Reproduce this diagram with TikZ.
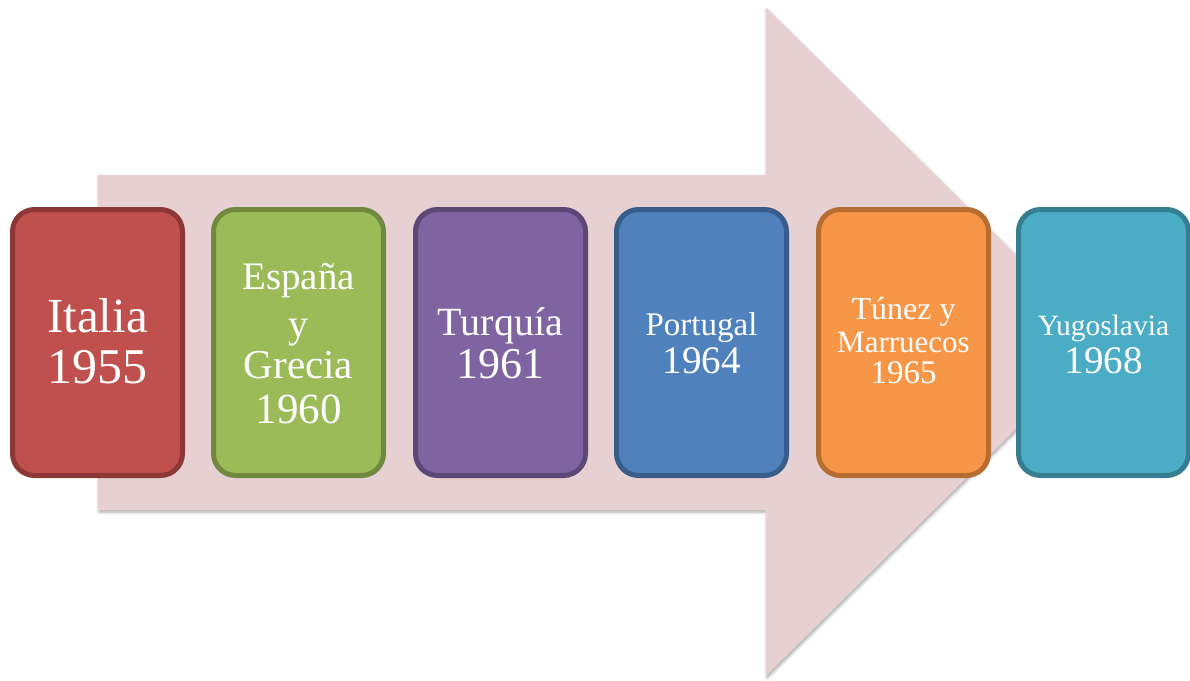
\documentclass[tikz,border=0pt]{standalone}
\usepackage{fontspec}
\setmainfont{Liberation Serif}
\usetikzlibrary{shadows.blur}
\definecolor{arrowpink}{HTML}{E7D0D1}
\definecolor{redF}{HTML}{C0504D}\definecolor{redB}{HTML}{8C3836}
\definecolor{greenF}{HTML}{9BBB59}\definecolor{greenB}{HTML}{71893F}
\definecolor{purpleF}{HTML}{8064A2}\definecolor{purpleB}{HTML}{5C4776}
\definecolor{blueF}{HTML}{4F81BD}\definecolor{blueB}{HTML}{385D8A}
\definecolor{orangeF}{HTML}{F79646}\definecolor{orangeB}{HTML}{B66D31}
\definecolor{aquaF}{HTML}{4BACC6}\definecolor{aquaB}{HTML}{357D91}
\newcommand\fsz[1]{\fontsize{#1}{#1}\selectfont}
\begin{document}
\begin{tikzpicture}[x=1pt,y=-1pt,
  stage/.style={draw, line width=5pt, rounded corners=22pt, minimum width=170pt, minimum height=266pt, inner sep=0pt},
  lbl/.style={text=white, anchor=base, inner sep=0pt}]
\useasboundingbox (0,0) rectangle (1190,680);
% big arrow
\fill[arrowpink, blur shadow={shadow xshift=1pt, shadow yshift=-2pt, shadow blur radius=3pt, shadow opacity=35}]
  (98,175) -- (766,175) -- (766,8) -- (1104,342) -- (766,676) -- (766,510) -- (98,510) -- cycle;
% boxes
\node[stage, fill=redF, draw=redB] (b1) at (97.5,342.5) {};
\node[stage, fill=greenF, draw=greenB] (b2) at (298.5,342.5) {};
\node[stage, fill=purpleF, draw=purpleB] (b3) at (500.5,342.5) {};
\node[stage, fill=blueF, draw=blueB] (b4) at (701.5,342.5) {};
\node[stage, fill=orangeF, draw=orangeB] (b5) at (903.5,342.5) {};
\node[stage, fill=aquaF, draw=aquaB] (b6) at (1103.5,342.5) {};
% labels
\node[lbl, font=\fsz{49}] (t1a) at (97.5,332) {Italia};
\node[lbl, font=\fsz{50}] (t1b) at (97.5,383) {1955};
\node[lbl, font=\fsz{39}] (t2a) at (298.5,289) {España};
\node[lbl, font=\fsz{40}] (t2b) at (298.5,337) {y};
\node[lbl, font=\fsz{41}] (t2c) at (298.5,378) {Grecia};
\node[lbl, font=\fsz{43}] (t2d) at (298.5,423) {1960};
\node[lbl, font=\fsz{40}] (t3a) at (500.5,335) {Turquía};
\node[lbl, font=\fsz{44}] (t3b) at (500.5,378) {1961};
\node[lbl, font=\fsz{33}] (t4a) at (701.5,335) {Portugal};
\node[lbl, font=\fsz{39}] (t4b) at (701.5,373) {1964};
\node[lbl, font=\fsz{32}] (t5a) at (903.5,319) {Túnez y};
\node[lbl, font=\fsz{31}] (t5b) at (903.5,352) {Marruecos};
\node[lbl, font=\fsz{33}] (t5c) at (903.5,383) {1965};
\node[lbl, font=\fsz{29.5}] (t6a) at (1103.5,335) {Yugoslavia};
\node[lbl, font=\fsz{39}] (t6b) at (1103.5,373) {1968};
\end{tikzpicture}
\end{document}
